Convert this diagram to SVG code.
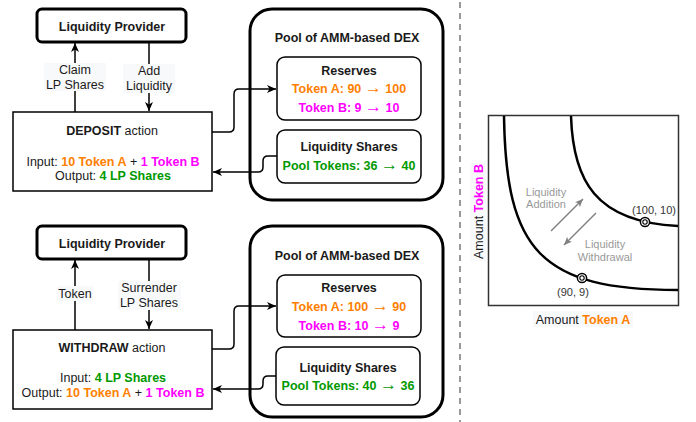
<svg xmlns="http://www.w3.org/2000/svg" width="696" height="422" viewBox="0 0 696 422">
<style>
text{font-family:"Liberation Sans",Arial,sans-serif;font-size:12.5px;fill:#1a1a1a}
.b{font-weight:bold}
.c{text-anchor:middle}
.o{fill:#FF8000;font-weight:bold}
.m{fill:#FF00FF;font-weight:bold}
.g{fill:#009900;font-weight:bold}
.ar{font-size:17px;font-weight:normal}
.thick{fill:#fff;stroke:#000;stroke-width:3}
.thin{fill:#fff;stroke:#000;stroke-width:1.5}
.con{fill:none;stroke:#000;stroke-width:1.5}
.lbg{fill:#f8f9fa}
.gray{fill:#999}
.small{font-size:11px}
</style>
<defs>
<marker id="arr" markerWidth="10" markerHeight="10" refX="9" refY="4" orient="auto" markerUnits="userSpaceOnUse">
<path d="M0,0 L9,4 L0,8 L2.5,4 Z" fill="#000"/>
</marker>
<marker id="garr" markerWidth="10" markerHeight="10" refX="8" refY="3.5" orient="auto" markerUnits="userSpaceOnUse">
<path d="M0,0 L8,3.5 L0,7 L2,3.5 Z" fill="#808080"/>
</marker>
</defs>

<g id="connectors">
<path class="con" d="M75,112 V43" marker-end="url(#arr)"/>
<path class="con" d="M149,42 V111" marker-end="url(#arr)"/>
<rect class="lbg" x="44" y="63" width="62" height="28"/>
<text class="c" x="75" y="74">Claim</text>
<text class="c" x="75" y="88.5">LP Shares</text>
<rect class="lbg" x="123" y="64" width="52" height="29"/>
<text class="c" x="149" y="75">Add</text>
<text class="c" x="149" y="90">Liquidity</text>
<path class="con" d="M212,132 H229 Q234,132 234,127 V94 Q234,89 239,89 H276" marker-end="url(#arr)"/>
<path class="con" d="M277,156 H268 Q263,156 263,161 V167 Q263,172 258,172 H213" marker-end="url(#arr)"/>
<path class="con" d="M75,330 V260" marker-end="url(#arr)"/>
<path class="con" d="M149,259 V329" marker-end="url(#arr)"/>
<rect class="lbg" x="57" y="286" width="36" height="15"/>
<text class="c" x="75" y="297.5">Token</text>
<rect class="lbg" x="118" y="281" width="63" height="29"/>
<text class="c" x="149" y="292">Surrender</text>
<text class="c" x="149" y="306.5">LP Shares</text>
<path class="con" d="M212,349 H229 Q234,349 234,344 V311 Q234,306 239,306 H276" marker-end="url(#arr)"/>
<path class="con" d="M276,376 H268 Q263,376 263,381 V384 Q263,389 258,389 H213" marker-end="url(#arr)"/>
</g>

<g id="lp1">
<rect class="thick" x="37" y="9" width="149" height="33" rx="5"/>
<text class="c b" x="112" y="31">Liquidity Provider</text>
</g>
<g id="deposit">
<rect class="thin" x="13" y="112" width="199" height="79"/>
<text class="c" x="112" y="135"><tspan class="b">DEPOSIT</tspan> action</text>
<text class="c" x="113" y="165.5">Input: <tspan class="o">10 Token A</tspan> + <tspan class="m">1 Token B</tspan></text>
<text class="c" x="113" y="179.5">Output: <tspan class="g">4 LP Shares</tspan></text>
</g>
<g id="pool1">
<rect fill="none" stroke="#000" stroke-width="3" x="250" y="9" width="193" height="191" rx="22"/>
<text class="c b" x="347" y="41.5">Pool of AMM-based DEX</text>
</g>
<g id="reserves1">
<rect class="thin" x="277" y="57" width="144" height="63" rx="8"/>
<text class="c b" x="349" y="74.5">Reserves</text>
<text class="c o" x="349" y="93">Token A: 90 <tspan class="ar">→</tspan> 100</text>
<text class="c m" x="349" y="112">Token B: 9 <tspan class="ar">→</tspan> 10</text>
</g>
<g id="shares1">
<rect class="thin" x="277" y="130" width="144" height="53" rx="8"/>
<text class="c b" x="349" y="151">Liquidity Shares</text>
<text class="c g" x="349" y="169.5">Pool Tokens: 36 <tspan class="ar">→</tspan> 40</text>
</g>

<g id="lp2">
<rect class="thick" x="37" y="226" width="149" height="33" rx="5"/>
<text class="c b" x="112" y="248">Liquidity Provider</text>
</g>
<g id="withdraw">
<rect class="thin" x="13" y="330" width="199" height="79"/>
<text class="c" x="112" y="352"><tspan class="b">WITHDRAW</tspan> action</text>
<text class="c" x="113" y="382">Input: <tspan class="g">4 LP Shares</tspan></text>
<text class="c" x="113" y="397">Output: <tspan class="o">10 Token A</tspan> + <tspan class="m">1 Token B</tspan></text>
</g>
<g id="pool2">
<rect fill="none" stroke="#000" stroke-width="3" x="250" y="226" width="193" height="191" rx="22"/>
<text class="c b" x="347" y="259.5">Pool of AMM-based DEX</text>
</g>
<g id="reserves2">
<rect class="thin" x="277" y="275" width="144" height="62" rx="8"/>
<text class="c b" x="349" y="291.5">Reserves</text>
<text class="c o" x="349" y="310.5">Token A: 100 <tspan class="ar">→</tspan> 90</text>
<text class="c m" x="349" y="329.5">Token B: 10 <tspan class="ar">→</tspan> 9</text>
</g>
<g id="shares2">
<rect class="thin" x="276" y="347" width="144" height="58" rx="8"/>
<text class="c b" x="348" y="371.5">Liquidity Shares</text>
<text class="c g" x="348" y="389.5">Pool Tokens: 40 <tspan class="ar">→</tspan> 36</text>
</g>

<line x1="460" y1="2" x2="460" y2="422" stroke="#999" stroke-width="2" stroke-dasharray="6 5"/>

<g id="chart">
<rect x="488.5" y="115.5" width="190" height="190" fill="#fff" stroke="#333" stroke-width="1.5"/>
<path d="M571,116 C573,180 595,222 678,226" fill="none" stroke="#000" stroke-width="2.5"/>
<path d="M504,116 C506,250 540,290 678,290" fill="none" stroke="#000" stroke-width="2.5"/>
<circle cx="645" cy="222" r="4.6" fill="#fff" stroke="#000" stroke-width="1.5"/>
<circle cx="645" cy="222" r="2.2" fill="#fff" stroke="#000" stroke-width="1.1"/>
<circle cx="582" cy="278" r="4.6" fill="#fff" stroke="#000" stroke-width="1.5"/>
<circle cx="582" cy="278" r="2.2" fill="#fff" stroke="#000" stroke-width="1.1"/>
<text class="c small" x="654" y="214" style="fill:#333">(100, 10)</text>
<text class="c small" x="573" y="296" style="fill:#333">(90, 9)</text>
<text class="c small gray" x="546" y="196">Liquidity</text>
<text class="c small gray" x="546" y="208">Addition</text>
<text class="c small gray" x="605" y="248">Liquidity</text>
<text class="c small gray" x="605" y="260.5">Withdrawal</text>
<line x1="551" y1="231" x2="583" y2="199" stroke="#808080" stroke-width="1.5" marker-end="url(#garr)"/>
<line x1="596" y1="213" x2="564" y2="245" stroke="#808080" stroke-width="1.5" marker-end="url(#garr)"/>
<rect class="lbg" x="533" y="311" width="100" height="16"/>
<text class="c" x="583" y="323.5">Amount <tspan class="o">Token A</tspan></text>
<rect class="lbg" x="470" y="163" width="16" height="98"/>
<text class="c" transform="translate(482.5,211.5) rotate(-90)">Amount <tspan class="m">Token B</tspan></text>
</g>
</svg>
